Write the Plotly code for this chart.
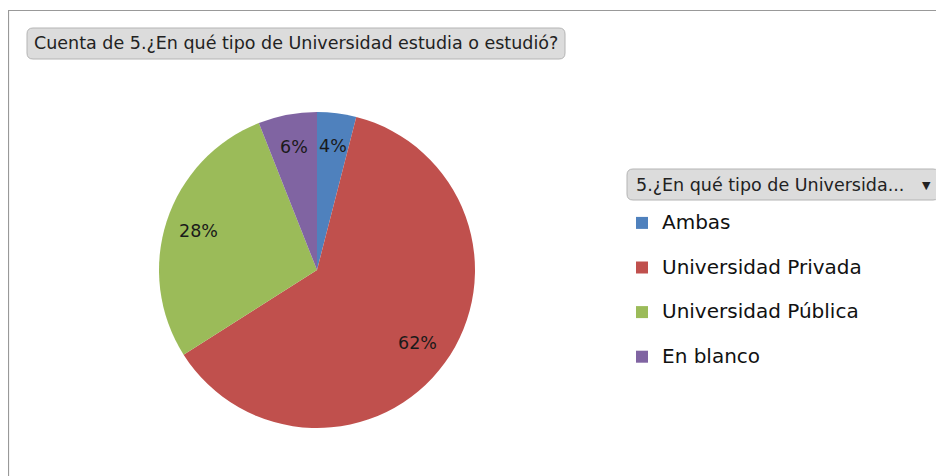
import math
import plotly.graph_objects as go

# ---- data ----
categories = ["Ambas", "Universidad Privada", "Universidad Pública", "En blanco"]
counts = [2, 31, 14, 3]
colors = ["#4F81BD", "#C0504D", "#9BBB59", "#8064A2"]
title_text = "Cuenta de 5.¿En qué tipo de Universidad estudia o estudió?"
legend_header = "5.¿En qué tipo de Universida..."

# ---- geometry (pixels in the 944x476 window; page body has an 8px margin) ----
OFF = 8
W, H = 944 - OFF, 476 - OFF
cx, cy, R = 317, 270, 158
LABEL_K = 0.79


def px(x):
    return (x - OFF) / W


def py(y):
    return 1 - (y - OFF) / H


def rounded_rect(x0, y0, x1, y1, r):
    X0, X1 = px(x0), px(x1)
    Y0, Y1 = py(y0), py(y1)
    rx, ry = r / W, r / H
    return (f"M {X0+rx},{Y0} L {X1-rx},{Y0} Q {X1},{Y0} {X1},{Y0-ry} "
            f"L {X1},{Y1+ry} Q {X1},{Y1} {X1-rx},{Y1} L {X0+rx},{Y1} "
            f"Q {X0},{Y1} {X0},{Y1+ry} L {X0},{Y0-ry} Q {X0},{Y0} {X0+rx},{Y0} Z")


legend_labels = [f"<span style='font-size:20px'>{c}</span><br> " for c in categories]

fig = go.Figure(go.Pie(
    labels=legend_labels,
    values=counts,
    sort=False,
    direction="clockwise",
    rotation=0,
    marker=dict(colors=colors, line=dict(width=0)),
    textinfo="none",
    hoverinfo="label+percent",
    domain=dict(x=[px(cx - R), px(cx + R)], y=[py(cy + R), py(cy - R)]),
))

# percentage labels placed at slice mid-angles
total = sum(counts)
annotations = []
cum = 0
for v in counts:
    mid = (cum + v / 2) / total
    cum += v
    th = 2 * math.pi * mid
    lx = cx + R * LABEL_K * math.sin(th)
    ly = cy - R * LABEL_K * math.cos(th)
    annotations.append(dict(
        x=px(lx), y=py(ly), xref="paper", yref="paper",
        xanchor="center", yanchor="middle",
        text=f"{round(100 * v / total)}%", showarrow=False,
        font=dict(family="DejaVu Sans", size=17.5, color="#1a1a1a"),
    ))

annotations.append(dict(
    x=px(32), y=py(43.5), xref="paper", yref="paper", xanchor="left", yanchor="middle",
    text=title_text, showarrow=False,
    font=dict(family="DejaVu Sans", size=17.5, color="#222222"),
))
annotations.append(dict(
    x=px(634), y=py(184.5), xref="paper", yref="paper", xanchor="left", yanchor="middle",
    text=legend_header, showarrow=False,
    font=dict(family="DejaVu Sans", size=17.5, color="#222222"),
))
annotations.append(dict(
    x=px(926), y=py(185), xref="paper", yref="paper", xanchor="center", yanchor="middle",
    text="▼", showarrow=False,
    font=dict(family="DejaVu Sans", size=11, color="#222222"),
))

shapes = [
    dict(type="path", xref="paper", yref="paper",
         path=f"M {px(8.5)},{py(H + 20)} L {px(8.5)},{py(10.5)} L {px(W + 20)},{py(10.5)}",
         line=dict(color="#999999", width=1.2)),
    dict(type="path", xref="paper", yref="paper", path=rounded_rect(27, 28, 565, 59, 6),
         fillcolor="#dcdcdc", line=dict(color="#b4b4b4", width=1)),
    dict(type="path", xref="paper", yref="paper", path=rounded_rect(627, 169, 939, 200, 6),
         fillcolor="#dcdcdc", line=dict(color="#b4b4b4", width=1)),
]

fig.update_layout(
    width=W, height=H,
    margin=dict(l=0, r=0, t=0, b=0),
    paper_bgcolor="white",
    showlegend=True,
    legend=dict(
        x=px(622), y=py(206), xanchor="left", yanchor="top",
        font=dict(family="DejaVu Sans", size=16, color="#111111"),
        valign="top", bgcolor="rgba(0,0,0,0)",
    ),
    annotations=annotations,
    shapes=shapes,
)

fig.write_html("out.html")
